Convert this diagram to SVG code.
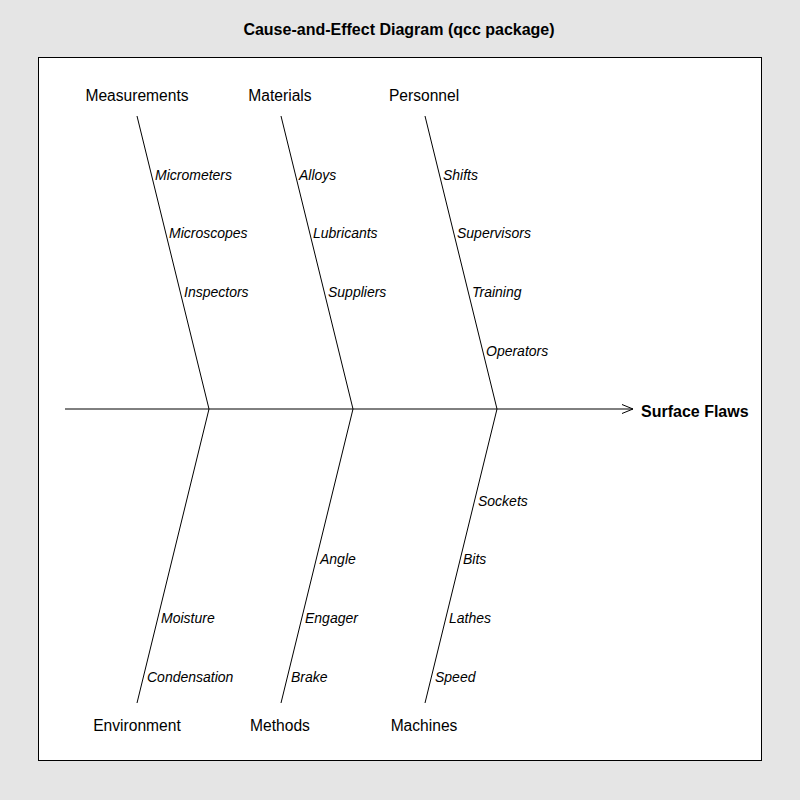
<svg xmlns="http://www.w3.org/2000/svg" width="800" height="800" viewBox="0 0 800 800">
<style>
.cat{font-family:"Liberation Sans",Arial,sans-serif;font-size:15.6px;fill:#000;text-anchor:middle}
.sub{font-family:"Liberation Sans",Arial,sans-serif;font-size:14px;font-style:italic;fill:#000}
.bold{font-family:"Liberation Sans",Arial,sans-serif;font-size:16px;font-weight:bold;fill:#000}
.ln{stroke:#000;stroke-width:1;fill:none}
</style>
<rect x="0" y="0" width="800" height="800" fill="#e5e5e5"/>
<rect x="38.5" y="57.5" width="723" height="703" fill="#fff" stroke="#000" stroke-width="1"/>
<text class="bold" x="399" y="35" text-anchor="middle">Cause-and-Effect Diagram (qcc package)</text>
<g id="connectors">
<line class="ln" x1="65" y1="409" x2="633" y2="409"/>
<polyline class="ln" points="622,404.5 633,409 622,413.5"/>
<line class="ln" x1="137" y1="116" x2="209" y2="409"/>
<line class="ln" x1="281" y1="116" x2="353" y2="409"/>
<line class="ln" x1="425" y1="116" x2="497" y2="409"/>
<line class="ln" x1="209" y1="409" x2="137" y2="703"/>
<line class="ln" x1="353" y1="409" x2="281" y2="703"/>
<line class="ln" x1="497" y1="409" x2="425" y2="703"/>
</g>
<g id="effect"><text class="bold" x="641" y="417">Surface Flaws</text></g>
<g id="measurements">
<text class="cat" x="137" y="101">Measurements</text>
<text class="sub" x="155" y="180">Micrometers</text>
<text class="sub" x="169" y="238">Microscopes</text>
<text class="sub" x="184" y="297">Inspectors</text>
</g>
<g id="materials">
<text class="cat" x="280" y="101">Materials</text>
<text class="sub" x="299" y="180">Alloys</text>
<text class="sub" x="313" y="238">Lubricants</text>
<text class="sub" x="328" y="297">Suppliers</text>
</g>
<g id="personnel">
<text class="cat" x="424" y="101">Personnel</text>
<text class="sub" x="443" y="180">Shifts</text>
<text class="sub" x="457" y="238">Supervisors</text>
<text class="sub" x="472" y="297">Training</text>
<text class="sub" x="486" y="356">Operators</text>
</g>
<g id="environment">
<text class="cat" x="137" y="731">Environment</text>
<text class="sub" x="161" y="623">Moisture</text>
<text class="sub" x="147" y="682">Condensation</text>
</g>
<g id="methods">
<text class="cat" x="280" y="731">Methods</text>
<text class="sub" x="320" y="564">Angle</text>
<text class="sub" x="305" y="623">Engager</text>
<text class="sub" x="291" y="682">Brake</text>
</g>
<g id="machines">
<text class="cat" x="424" y="731">Machines</text>
<text class="sub" x="478" y="506">Sockets</text>
<text class="sub" x="463" y="564">Bits</text>
<text class="sub" x="449" y="623">Lathes</text>
<text class="sub" x="435" y="682">Speed</text>
</g>
</svg>
